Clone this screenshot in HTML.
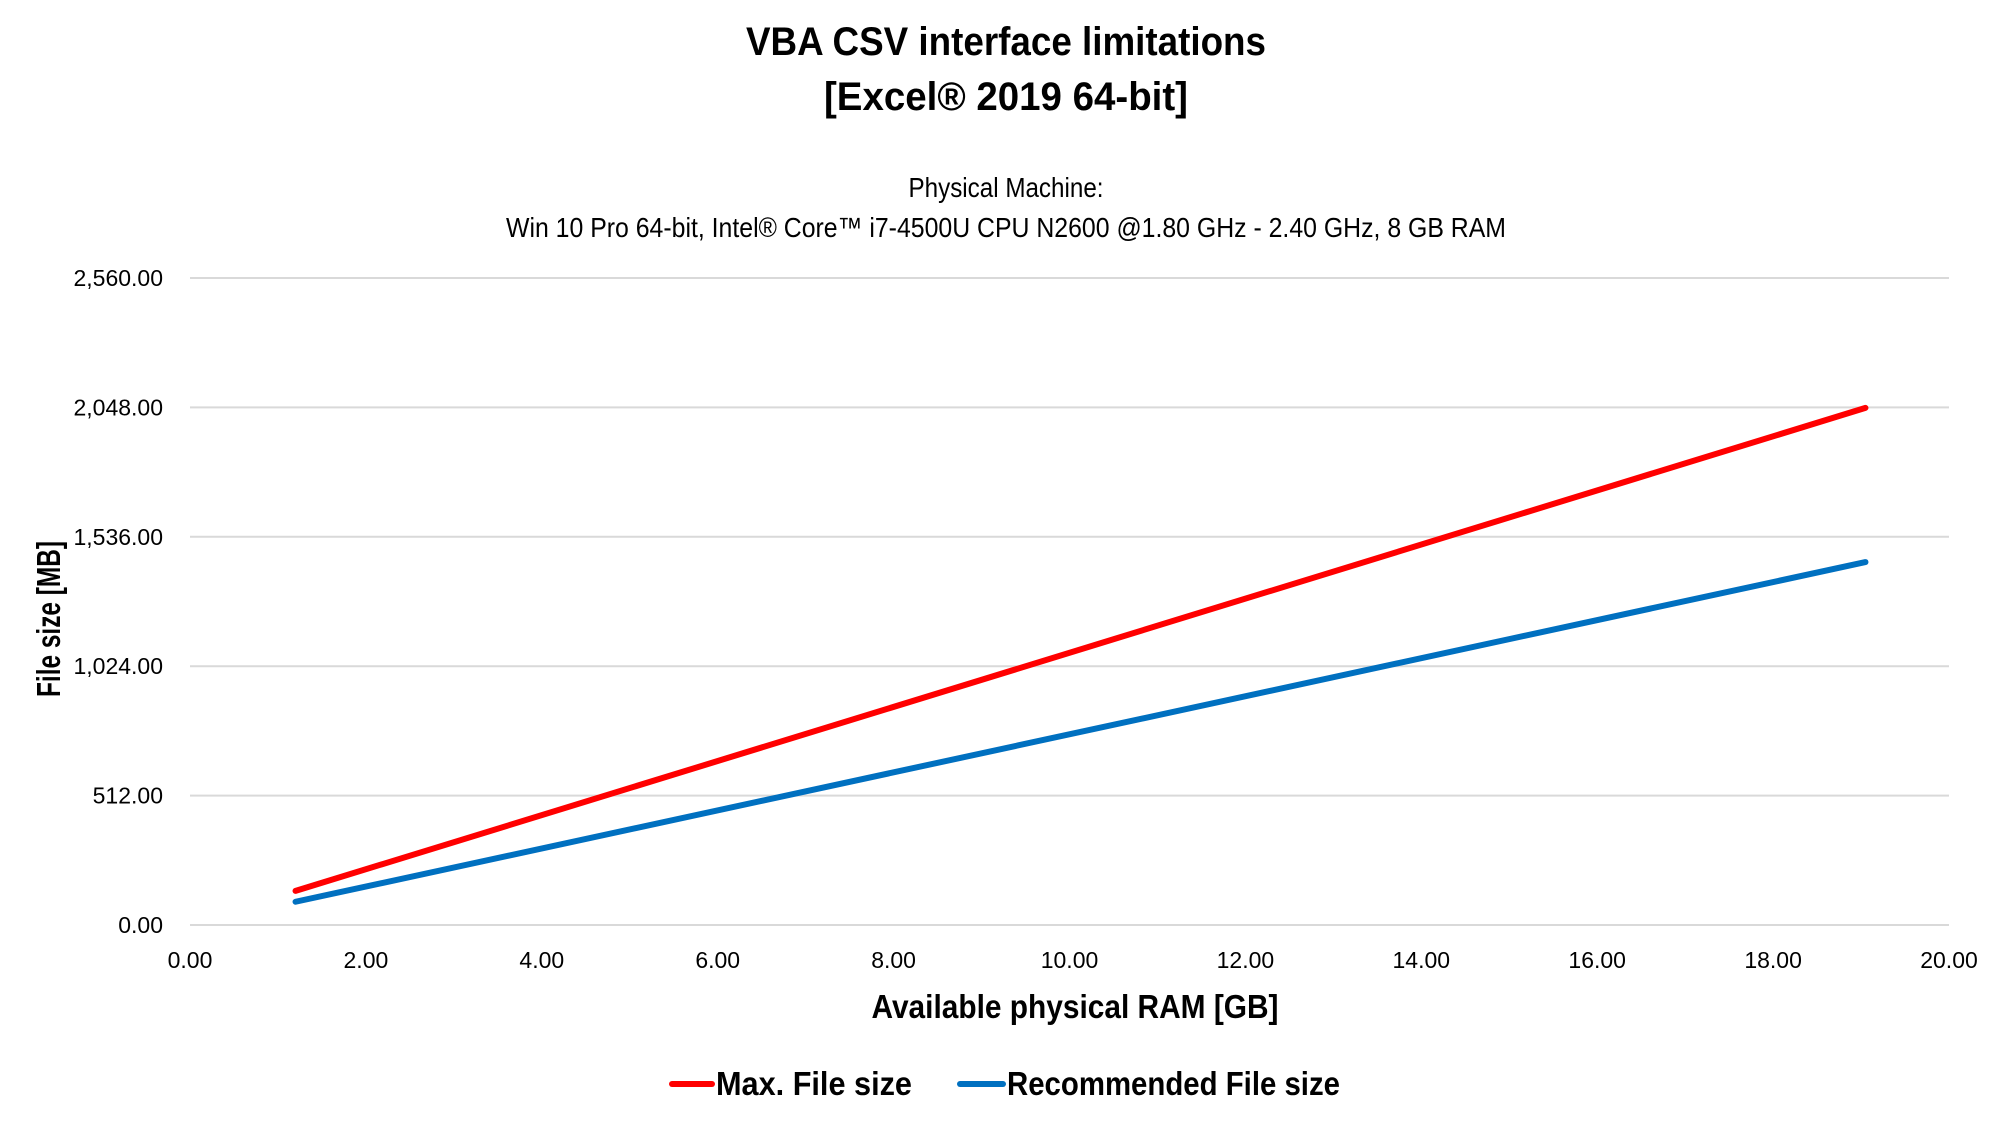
<!DOCTYPE html>
<html><head><meta charset="utf-8"><style>
html,body{margin:0;padding:0;background:#fff}
svg{display:block;font-family:"Liberation Sans Narrow","Liberation Sans",sans-serif}
</style></head><body>
<svg id="chart" width="2000" height="1125" viewBox="0 0 2000 1125" xmlns="http://www.w3.org/2000/svg">
<g id="titles">
<text x="1006" y="55" text-anchor="middle" font-size="40" font-weight="bold" textLength="520" lengthAdjust="spacingAndGlyphs">VBA CSV interface limitations</text>
<text x="1006" y="110" text-anchor="middle" font-size="40" font-weight="bold" textLength="364" lengthAdjust="spacingAndGlyphs">[Excel® 2019 64-bit]</text>
<text x="1006" y="197" text-anchor="middle" font-size="28" textLength="195" lengthAdjust="spacingAndGlyphs">Physical Machine:</text>
<text x="1006" y="237" text-anchor="middle" font-size="28" textLength="1000" lengthAdjust="spacingAndGlyphs">Win 10 Pro 64-bit, Intel® Core™ i7-4500U CPU N2600 @1.80 GHz - 2.40 GHz, 8 GB RAM</text>
</g>
<g id="grid"></g><g id="yticks"></g><g id="xticks"></g><g id="series"></g>
<text x="1075" y="1018" text-anchor="middle" font-size="33" font-weight="bold" textLength="407" lengthAdjust="spacingAndGlyphs">Available physical RAM [GB]</text>
<text transform="translate(60,619) rotate(-90)" text-anchor="middle" font-size="33" font-weight="bold" textLength="156" lengthAdjust="spacingAndGlyphs">File size [MB]</text>
<g>
<line x1="672" y1="1084" x2="712" y2="1084" stroke="#ff0000" stroke-width="6" stroke-linecap="round"/>
<text x="716" y="1095" font-size="33" font-weight="bold" textLength="196" lengthAdjust="spacingAndGlyphs">Max. File size</text>
<line x1="960" y1="1084" x2="1003" y2="1084" stroke="#0070c0" stroke-width="6" stroke-linecap="round"/>
<text x="1007" y="1095" font-size="33" font-weight="bold" textLength="333" lengthAdjust="spacingAndGlyphs">Recommended File size</text>
</g>
</svg>
<script>
const xTicks = [0,2,4,6,8,10,12,14,16,18,20];
const yTicks = [0,512,1024,1536,2048,2560];
const ramGB = [1.2, 19.05];
const maxFileMB = [135, 2046];
const recFileMB = [92, 1436];
const L=190,R=1949,B=925,T=278;
function sx(v){return L+(v-0)/(20-0)*(R-L);}
function sy(v){return B-(v-0)/(2560-0)*(B-T);}
const NS="http://www.w3.org/2000/svg";
function mk(tag,attrs,parent){const e=document.createElementNS(NS,tag);for(const k in attrs)e.setAttribute(k,attrs[k]);parent.appendChild(e);return e;}
const grid=document.getElementById('grid'),yt=document.getElementById('yticks'),xt=document.getElementById('xticks'),ser=document.getElementById('series');
yTicks.forEach(v=>{
  const l=mk('line',{x1:L,x2:R,y1:sy(v),y2:sy(v),stroke:'#d9d9d9','stroke-width':2},grid);
  
  
  const t=mk('text',{x:163,y:sy(v)+8,'text-anchor':'end','font-size':23},yt);
  t.textContent=v.toLocaleString('en-US',{minimumFractionDigits:2,maximumFractionDigits:2});
  
  
});
xTicks.forEach(v=>{
  const t=mk('text',{x:sx(v),y:968,'text-anchor':'middle','font-size':23},xt);
  t.textContent=v.toFixed(2);
  
  
});
function series(vals,color,name){
  const p=mk('polyline',{points:ramGB.map((x,i)=>sx(x)+','+sy(vals[i])).join(' '),fill:'none',stroke:color,'stroke-width':6,'stroke-linecap':'round','stroke-linejoin':'round'},ser);
  
  
}
series(recFileMB,'#0070c0','recommended-file-size-line');
series(maxFileMB,'#ff0000','max-file-size-line');
</script>
</body></html>
